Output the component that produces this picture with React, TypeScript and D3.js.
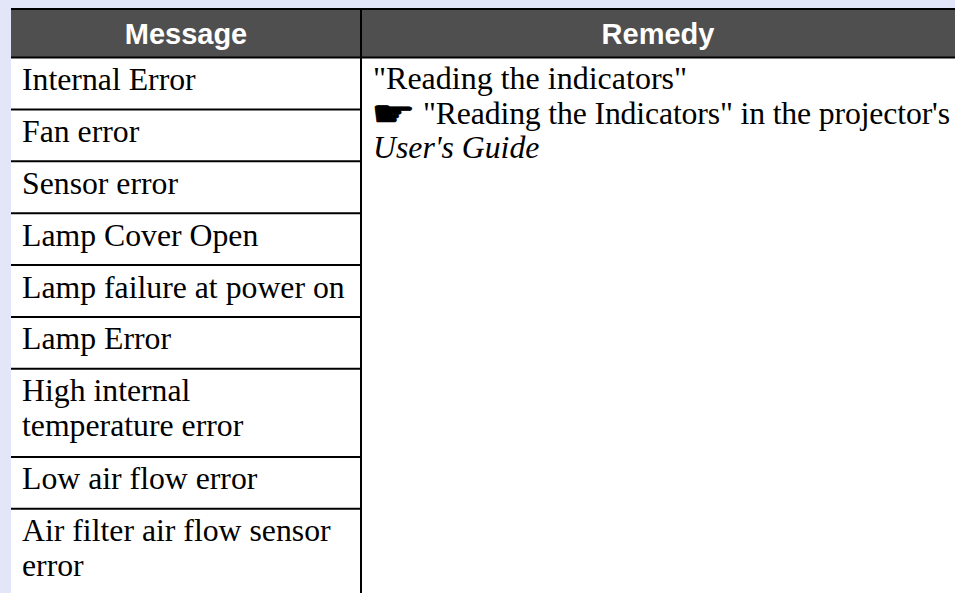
import React from "react";
import * as d3 from "d3";

const headers = ["Message", "Remedy"];
const messages = [
  ["Internal Error"],
  ["Fan error"],
  ["Sensor error"],
  ["Lamp Cover Open"],
  ["Lamp failure at power on"],
  ["Lamp Error"],
  ["High internal", "temperature error"],
  ["Low air flow error"],
  ["Air filter air flow sensor", "error"],
];
const remedyFirst = '"Reading the indicators"';
const remedyHand = "\u261B";
const remedySecond = '"Reading the Indicators" in the projector\'s';
const remedyThird = "User's Guide";

const W = 955;
const H = 593;
const serif = "'Liberation Serif', serif";
const sans = "'Liberation Sans', sans-serif";
const bodySize = 31.75;

const App = () => {
  // a two line row is about 1.7 times a single one
  const units = messages.map((m) => (m.length > 1 ? 1.7 : 1));
  const edges = [0, ...d3.cumsum(units)];
  const y = d3.scaleLinear().domain([0, edges[edges.length - 1]]).range([57.5, 597]);
  const left = 11;
  const divider = 361;

  return (
    <svg
      width={W}
      height={H}
      style={{ position: "absolute", left: 0, top: 0, display: "block" }}
    >
      <rect width={W} height={H} fill="#fff" />
      <rect width={W} height={9} fill="#e3e6f8" />
      <rect width={left} height={H} fill="#e3e6f8" />
      <rect x={left} y={9} width={W - left} height={49} fill="#4f4f4f" />
      <line x1={left} x2={W} y1={9} y2={9} stroke="#000" strokeWidth={2} />

      <text x={186} y={44} textAnchor="middle" fill="#fff" fontFamily={sans} fontWeight="bold" fontSize={29}>
        {headers[0]}
      </text>
      <text x={658} y={44} textAnchor="middle" fill="#fff" fontFamily={sans} fontWeight="bold" fontSize={29}>
        {headers[1]}
      </text>

      {messages.map((lines, i) => (
        <g key={i}>
          <line x1={left} x2={i === 0 ? W : divider} y1={y(edges[i])} y2={y(edges[i])} stroke="#000" strokeWidth={2} />
          {lines.map((t, j) => (
            <text key={j} x={22} y={y(edges[i]) + 32.5 + j * 35} fontFamily={serif} fontSize={bodySize} fill="#000">
              {t}
            </text>
          ))}
        </g>
      ))}
      <line x1={divider} x2={divider} y1={9} y2={H} stroke="#000" strokeWidth={2} />

      <text x={373} y={89} fontFamily={serif} fontSize={32} fill="#000">{remedyFirst}</text>
      {/* the hand glyph is flatter and heavier in the original */}
      <text
        transform="translate(371,126) scale(1,0.72)"
        fontFamily="'DejaVu Sans', sans-serif"
        fontSize={50}
        fill="#000"
        stroke="#000"
        strokeWidth={1}
      >
        {remedyHand}
      </text>
      <text x={423} y={124} fontFamily={serif} fontSize={bodySize} textLength={527} lengthAdjust="spacing" fill="#000">
        {remedySecond}
      </text>
      <text x={373} y={158} fontFamily={serif} fontSize={bodySize} fontStyle="italic" fill="#000">{remedyThird}</text>
    </svg>
  );
};

export default App;
